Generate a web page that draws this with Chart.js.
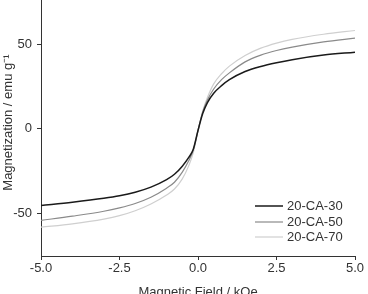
<!DOCTYPE html>
<html><head><meta charset="utf-8">
<script src="https://cdn.jsdelivr.net/npm/chart.js@4.4.1/dist/chart.umd.min.js"></script>
<style>html,body{margin:0;padding:0;background:#fff;overflow:hidden}#w{width:368px;height:294px}</style>
</head><body><div id="w"><canvas id="c"></canvas></div>
<script>
const fieldKOe = [-5,-4,-3,-2.5,-2,-1.5,-1,-0.75,-0.5,-0.3,-0.15,0,0.15,0.3,0.5,0.75,1,1.5,2,2.5,3,4,5];
const ca30 = [-45.2,-43.3,-41,-39.5,-37.4,-34.4,-30,-26.8,-22,-17,-12,-1,9,15.5,21,25.5,29,33.8,36.8,39,40.8,43.5,45.2];
const ca50 = [-54,-51.5,-48.6,-46.6,-44,-40.3,-35,-31.5,-25.5,-19,-12.5,-1,10,17,23.5,29,33,39.5,43.5,46.2,48.2,51.3,53.5];
const ca70 = [-58,-56,-53.2,-51.2,-48.3,-44.3,-39,-35.5,-29.5,-22,-14,-1,10.5,18.5,26.5,32.5,37,43.3,47.6,50.6,52.8,55.8,58];
const seriesNames = ['20-CA-30','20-CA-50','20-CA-70'];
const xTicks = [-5,-2.5,0,2.5,5];
const yTicks = [-50,0,50];

const FONT = 'Liberation Sans, Arial, sans-serif';
const pts = arr => fieldKOe.map((x,i)=>({x, y: arr[i]}));
const colors = ['#1a1a1a','#8a8a8a','#cfcfcf'];
const widths = [1.5,1.2,1.2];

const legendPlugin = {
  id:'inlegend',
  afterDraw(chart){
    const ctx = chart.ctx, a = chart.chartArea;
    ctx.save();
    ctx.font = '13px ' + FONT;
    ctx.textBaseline = 'middle';
    const ys = [206, 222, 237];
    chart.data.datasets.forEach((d,i)=>{
      const y = a.bottom - (256 - ys[i]);
      ctx.strokeStyle = d.borderColor; ctx.lineWidth = d.borderWidth;
      ctx.beginPath(); ctx.moveTo(a.right-100, y); ctx.lineTo(a.right-72, y); ctx.stroke();
      ctx.fillStyle = '#333';
      ctx.fillText(d.label, a.right-68, y+0.5);
    });
    ctx.restore();
  }
};

new Chart(document.getElementById('c'), {
  type:'line',
  data:{ datasets:[ca30,ca50,ca70].map((arr,i)=>({
    label: seriesNames[i], data: pts(arr), borderColor: colors[i], borderWidth: widths[i],
    pointRadius:0, fill:false, cubicInterpolationMode:'monotone'
  }))},
  options:{
    responsive:true, maintainAspectRatio:false, animation:false,
    layout:{padding:{top:0,right:13,bottom:0,left:0}},
    plugins:{legend:{display:false}, tooltip:{enabled:false}},
    scales:{
      x:{type:'linear', min:-5, max:5,
        afterBuildTicks(s){ s.ticks = xTicks.map(v=>({value:v})); },
        afterFit(s){ s.height = 38; },
        border:{display:true,color:'#333',width:1},
        grid:{display:true, drawOnChartArea:false, drawTicks:true, tickLength:4, color:'#333'},
        ticks:{color:'#333', font:{family:FONT,size:13}, padding:1, maxRotation:0, callback:v=>Number(v).toFixed(1)},
        title:{display:true, text:'Magnetic Field / kOe', color:'#333', font:{family:FONT,size:13}, padding:{top:0,bottom:-6}}
      },
      y:{type:'linear', min:-75, max:76,
        afterBuildTicks(s){ s.ticks = yTicks.map(v=>({value:v})); },
        afterFit(s){ s.width = 41; s.paddingTop = 0; s.paddingBottom = 0; },
        border:{display:true,color:'#333',width:1},
        grid:{display:true, drawOnChartArea:false, drawTicks:true, tickLength:4, color:'#333'},
        ticks:{color:'#333', font:{family:FONT,size:13}, padding:5},
        title:{display:true, text:'   Magnetization / emu g⁻¹', color:'#333', font:{family:FONT,size:13}, padding:{top:1,bottom:0}}
      }
    }
  },
  plugins:[legendPlugin]
});
</script>
</body></html>
